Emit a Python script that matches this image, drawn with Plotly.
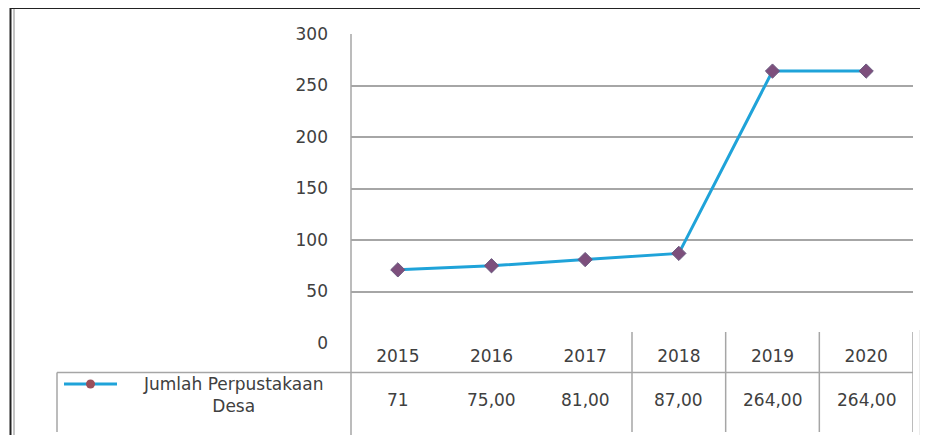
import plotly.graph_objects as go

years = ["2015", "2016", "2017", "2018", "2019", "2020"]
values = [71, 75, 81, 87, 264, 264]
value_labels = ["71", "75,00", "81,00", "87,00", "264,00", "264,00"]
series_name = "Jumlah Perpustakaan<br>Desa"
y_ticks = [0, 50, 100, 150, 200, 250, 300]

LINE = "#1fa3d9"
MARK = "#7d4f7c"
TXT = "#404040"
GRID = "#a6a6a6"
FONT = "DejaVu Sans"
FS = 17

O = 8  # page body margin
W, H = 928 - O, 435 - O
L, R, T, B = 351 - O, 15, 34 - O, 92
PW = W - L - R
PH = H - T - B

def py(p):  # page pixel y -> paper y
    return (H - B - (p - O)) / PH

def px(p):  # page pixel x -> paper x
    return (p - O - L) / PW

fig = go.Figure()
fig.add_trace(go.Scatter(
    x=years, y=values, mode="lines+markers",
    line=dict(color=LINE, width=3),
    marker=dict(symbol="diamond", size=11, color=MARK, line=dict(color="#6a5a80", width=1)),
    showlegend=False, cliponaxis=False,
))

shapes = []
# outer border
shapes.append(dict(type="line", xref="paper", yref="paper", x0=px(10), x1=px(940), y0=py(8), y1=py(8),
                   line=dict(color="#222222", width=2)))
shapes.append(dict(type="line", xref="paper", yref="paper", x0=px(10.5), x1=px(10.5), y0=py(8), y1=py(440),
                   line=dict(color="#222222", width=2)))
shapes.append(dict(type="line", xref="paper", yref="paper", x0=px(14), x1=px(14), y0=py(9), y1=py(440),
                   line=dict(color="#b0b0b0", width=1.5)))
# value axis line (extends through table)
shapes.append(dict(type="line", xref="paper", yref="paper", x0=0, x1=0, y0=1, y1=py(440),
                   line=dict(color=GRID, width=1.5)))
# table top line
shapes.append(dict(type="line", xref="paper", yref="paper", x0=px(57), x1=1, y0=py(372.5), y1=py(372.5),
                   line=dict(color=GRID, width=1.5)))
# table left line
shapes.append(dict(type="line", xref="paper", yref="paper", x0=px(57), x1=px(57), y0=py(372.5), y1=py(432),
                   line=dict(color=GRID, width=1.5)))
# column separators
for k in range(2, len(years)):
    shapes.append(dict(type="line", xref="x", yref="paper", x0=k + 0.5, x1=k + 0.5, y0=py(332), y1=py(432),
                       line=dict(color=GRID, width=1.5)))
# right faint border
shapes.append(dict(type="line", xref="paper", yref="paper", x0=px(920), x1=px(920), y0=py(330), y1=py(440),
                   line=dict(color="#d8d8d8", width=1)))
# legend key
shapes.append(dict(type="line", xref="paper", yref="paper", x0=px(64), x1=px(117), y0=py(384), y1=py(384),
                   line=dict(color=LINE, width=3)))
shapes.append(dict(type="circle", xref="paper", yref="paper", x0=px(86), x1=px(95), y0=py(379.5), y1=py(388.5),
                   fillcolor="#9a4f5a", line=dict(color="#9a4f5a", width=0)))

annotations = []
annotations.append(dict(text=series_name, xref="paper", yref="paper", x=px(233), y=py(395),
                        showarrow=False, align="center", xanchor="center", yanchor="middle",
                        font=dict(family=FONT, size=FS, color=TXT)))
for i, lab in enumerate(value_labels):
    annotations.append(dict(text=lab, xref="x", yref="paper", x=i, y=py(400),
                            showarrow=False, xanchor="center", yanchor="middle",
                            font=dict(family=FONT, size=FS, color=TXT)))

fig.update_layout(
    width=W, height=H,
    margin=dict(l=L, r=R, t=T, b=B),
    paper_bgcolor="white", plot_bgcolor="white",
    font=dict(family=FONT, size=FS, color=TXT),
    shapes=shapes, annotations=annotations,
    xaxis=dict(type="category", categoryorder="array", categoryarray=years,
               range=[-0.5, len(years) - 0.5], showgrid=False, zeroline=False, showline=False,
               ticks="", ticklabelstandoff=1, tickfont=dict(family=FONT, size=FS, color=TXT)),
    yaxis=dict(range=[0, 300], tickmode="array", tickvals=y_ticks,
               ticktext=[str(v) for v in y_ticks],
               showgrid=True, gridcolor=GRID, gridwidth=1.5,
               zeroline=False, showline=False, ticks="", ticklabelstandoff=22,
               tickfont=dict(family=FONT, size=FS, color=TXT)),
)
fig.write_html("out.html")
